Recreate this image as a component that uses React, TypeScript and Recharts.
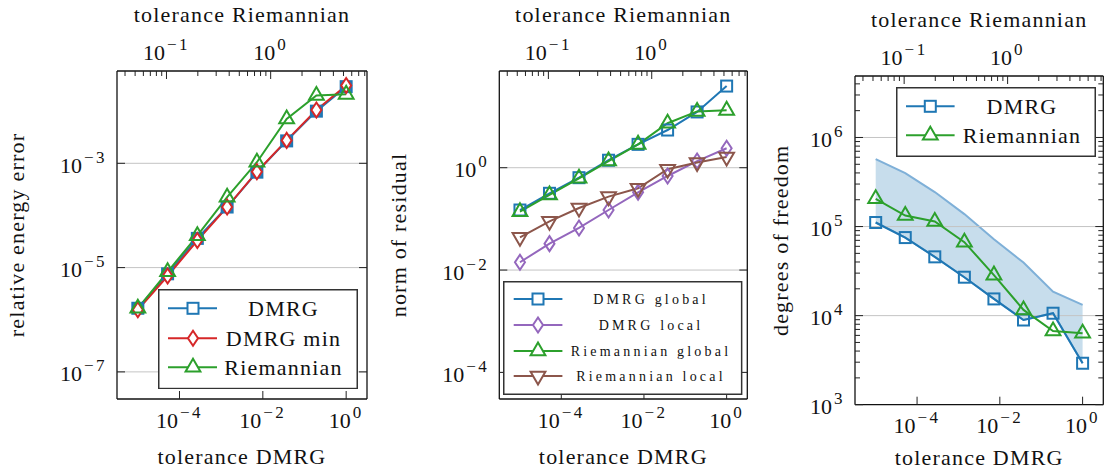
import React from 'react';
import { LineChart, ComposedChart, Line, Area, XAxis, YAxis, ReferenceLine, Legend } from 'recharts';

// ---------- data ----------
const tolDMRG = [1e-5, 5.18e-5, 2.68e-4, 1.39e-3, 7.2e-3, 3.73e-2, 0.193, 1];

const errDMRG = [1.66e-6, 7.6e-6, 3.63e-5, 1.45e-4, 6.76e-4, 2.69e-3, 1.0e-2, 2.95e-2];
const errDMRGmin = [1.55e-6, 6.9e-6, 3.3e-5, 1.45e-4, 6.9e-4, 2.75e-3, 1.05e-2, 3.1e-2];
const errRiem = [1.66e-6, 8.3e-6, 4.1e-5, 2.24e-4, 1.05e-3, 7.1e-3, 2.0e-2, 2.1e-2];

const resDMRGglobal = [0.149, 0.316, 0.638, 1.4, 2.86, 5.45, 12.3, 39.4];
const resDMRGlocal = [0.0142, 0.0328, 0.0664, 0.149, 0.331, 0.689, 1.35, 2.4];
const resRiemGlobal = [0.138, 0.293, 0.621, 1.35, 2.86, 7.4, 12.6, 13.2];
const resRiemLocal = [0.0437, 0.0897, 0.163, 0.272, 0.396, 0.933, 1.26, 1.62];

const dofDMRG = [111000, 75200, 45700, 27000, 15400, 8930, 10640, 2920];
const dofRiem = [205000, 133000, 114000, 66800, 28500, 11600, 6730, 6340];
const dofUpper = [571000, 398000, 244000, 138000, 72100, 39400, 18600, 13200];

// ---------- axes ----------
const xDomain: [number, number] = [3.1623e-6, 3.1623];
const topDomain: [number, number] = [0.0335, 8.41];
const y1Domain: [number, number] = [3.02e-8, 0.0589];
const y2Domain: [number, number] = [3.02e-5, 77.6];
const y3Domain: [number, number] = [1000, 4.9e6];

const bottomTicks = [1e-4, 1e-2, 1];
const bottomExps = ['−4', '−2', '0'];
const topTicks = [0.04, 0.05, 0.06, 0.07, 0.08, 0.09, 0.1, 0.2, 0.3, 0.4, 0.5, 0.6, 0.7, 0.8, 0.9, 1, 2, 3, 4, 5, 6, 7, 8];
const topMajor = [0.1, 1];
const topExps = ['−1', '0'];

const y1Major = [1e-7, 1e-5, 1e-3];
const y1Exps = ['−7', '−5', '−3'];
const y2Major = [1e-4, 1e-2, 1];
const y2Exps = ['−4', '−2', '0'];
const y3Major = [1e3, 1e4, 1e5, 1e6];
const y3Exps = ['3', '4', '5', '6'];
const y3Minor = [2e3, 3e3, 4e3, 5e3, 6e3, 7e3, 8e3, 9e3, 2e4, 3e4, 4e4, 5e4, 6e4, 7e4, 8e4, 9e4, 2e5, 3e5, 4e5, 5e5, 6e5, 7e5, 8e5, 9e5, 2e6, 3e6, 4e6];
const y3Grid = [1e4, 1e5, 1e6];

const legend1 = ['DMRG', 'DMRG min', 'Riemannian'];
const legend2 = ['DMRG global', 'DMRG local', 'Riemannian global', 'Riemannian local'];
const legend3 = ['DMRG', 'Riemannian'];

const BLUE = '#1f77b4';
const RED = '#d62728';
const GREEN = '#2ca02c';
const PURPLE = '#9467bd';
const BROWN = '#8c564b';

const FONT = '"Liberation Serif", "Times New Roman", serif';
const TXT = '#111';
const GRID = '#c4c4c4';

const data1 = tolDMRG.map((x, i) => ({ x, a: errDMRG[i], b: errDMRGmin[i], c: errRiem[i] }));
const data2 = tolDMRG.map((x, i) => ({ x, a: resDMRGglobal[i], b: resDMRGlocal[i], c: resRiemGlobal[i], d: resRiemLocal[i] }));
const data3 = tolDMRG.map((x, i) => ({ x, a: dofDMRG[i], c: dofRiem[i], band: [dofDMRG[i], dofUpper[i]] }));

// ---------- helpers ----------
function Marker({ cx, cy, shape, color, fill = 'none' }: any) {
  if (cx == null || cy == null || isNaN(cx) || isNaN(cy)) return null;
  const sw = 2;
  if (shape === 'square')
    return <rect x={cx - 5.5} y={cy - 5.5} width={11} height={11} fill={fill} stroke={color} strokeWidth={sw} />;
  if (shape === 'diamond')
    return <polygon points={`${cx},${cy - 7.5} ${cx + 5},${cy} ${cx},${cy + 7.5} ${cx - 5},${cy}`} fill={fill} stroke={color} strokeWidth={sw} />;
  if (shape === 'tri')
    return <polygon points={`${cx},${cy - 8.5} ${cx + 7.4},${cy + 4.3} ${cx - 7.4},${cy + 4.3}`} fill={fill} stroke={color} strokeWidth={sw} />;
  return <polygon points={`${cx},${cy + 8.5} ${cx + 7.4},${cy - 4.3} ${cx - 7.4},${cy - 4.3}`} fill={fill} stroke={color} strokeWidth={sw} />;
}

const dotFn = (shape: string, color: string, fill = 'none') => (p: any) => (
  <Marker key={`m-${p.index}`} cx={p.cx} cy={p.cy} shape={shape} color={color} fill={fill} />
);

function PowText({ x, y, exp, anchor }: any) {
  return (
    <text x={x} y={y} textAnchor={anchor} fontFamily={FONT} fontSize={22} fill={TXT}>
      10
      <tspan dx={2} dy={-10} fontSize={17} letterSpacing={2.5}>{exp}</tspan>
    </text>
  );
}

function Title({ tx, ty, text, rot }: any) {
  if (rot)
    return (
      <text transform={`translate(${tx},${ty}) rotate(-90)`} textAnchor="middle" dominantBaseline="central" fontFamily={FONT} fontSize={22} letterSpacing={1.2} fill={TXT}>
        {text}
      </text>
    );
  return (
    <text x={tx} y={ty} textAnchor="middle" fontFamily={FONT} fontSize={22} letterSpacing={1.2} fill={TXT}>
      {text}
    </text>
  );
}

type Cfg = { px0: number; px1: number; py0: number; py1: number; bt: number };

const bottomTick = (c: Cfg) => (p: any) => {
  const v = p.payload.value;
  const i = bottomTicks.indexOf(v);
  return (
    <g key={`bt-${v}`}>
      <line x1={p.x} x2={p.x} y1={c.py1} y2={c.py1 - 8} stroke="#222" strokeWidth={1} />
      {i >= 0 && <PowText x={p.x} y={c.py1 + 28.5} exp={bottomExps[i]} anchor="middle" />}
    </g>
  );
};

const topTick = (c: Cfg) => (p: any) => {
  const v = p.payload.value;
  const i = topMajor.indexOf(v);
  const len = i >= 0 ? 8 : 5;
  return (
    <g key={`tt-${v}`}>
      <line x1={p.x} x2={p.x} y1={c.py0} y2={c.py0 + len} stroke="#222" strokeWidth={1} />
      {i >= 0 && <PowText x={p.x} y={c.py0 - 11} exp={topExps[i]} anchor="middle" />}
    </g>
  );
};

const leftTick = (c: Cfg, major: number[], exps: string[]) => (p: any) => {
  const v = p.payload.value;
  const i = major.indexOf(v);
  const len = i >= 0 ? 8 : 5;
  return (
    <g key={`lt-${v}`}>
      <line x1={c.px0} x2={c.px0 + len} y1={p.y} y2={p.y} stroke="#222" strokeWidth={1} />
      <line x1={c.px1} x2={c.px1 - len} y1={p.y} y2={p.y} stroke="#222" strokeWidth={1} />
      {i >= 0 && <PowText x={c.px0 - 10} y={p.y + 9.5} exp={exps[i]} anchor="end" />}
    </g>
  );
};

function LegendBox({ w, h, names, shapes, colors, ys, lx0, lx1, mx, tx, fs, ls }: any) {
  return (
    <svg width={w} height={h} style={{ display: 'block' }}>
      <rect x={0.75} y={0.75} width={w - 1.5} height={h - 1.5} fill="#fff" stroke="#333" strokeWidth={1.5} />
      {names.map((n: string, i: number) => (
        <g key={n}>
          <line x1={lx0} x2={lx1} y1={ys[i]} y2={ys[i]} stroke={colors[i]} strokeWidth={2} />
          <Marker cx={mx} cy={ys[i]} shape={shapes[i]} color={colors[i]} fill="#fff" />
          <text x={tx} y={ys[i] + fs * 0.33} textAnchor="middle" fontFamily={FONT} fontSize={fs} letterSpacing={ls} fill={TXT}>
            {n}
          </text>
        </g>
      ))}
    </svg>
  );
}

const axisLine = { stroke: '#111', strokeWidth: 1.3 };

function axes(c: Cfg, yDomain: [number, number], yTicks: number[], yMajor: number[], yExps: string[], yTitle: string, yTitleX: number) {
  const cx = (c.px0 + c.px1) / 2;
  const cy = (c.py0 + c.py1) / 2;
  return [
    <XAxis
      key="xb"
      xAxisId="b"
      dataKey="x"
      type="number"
      scale="log"
      domain={xDomain}
      allowDataOverflow
      ticks={bottomTicks}
      interval={0}
      tickLine={false}
      axisLine={axisLine}
      height={50}
      tick={bottomTick(c)}
      label={<Title tx={cx} ty={c.bt} text="tolerance DMRG" />}
    />,
    <XAxis
      key="xt"
      xAxisId="t"
      dataKey="x"
      orientation="top"
      type="number"
      scale="log"
      domain={topDomain}
      allowDataOverflow
      ticks={topTicks}
      interval={0}
      tickLine={false}
      axisLine={axisLine}
      height={40}
      tick={topTick(c)}
      label={<Title tx={cx} ty={c.py0 - 49} text="tolerance Riemannian" />}
    />,
    <YAxis
      key="yl"
      yAxisId="l"
      type="number"
      scale="log"
      domain={yDomain}
      allowDataOverflow
      ticks={yTicks}
      interval={0}
      tickLine={false}
      axisLine={axisLine}
      width={100}
      tick={leftTick(c, yMajor, yExps)}
      label={<Title tx={yTitleX} ty={cy} text={yTitle} rot />}
    />,
    <YAxis
      key="yr"
      yAxisId="r"
      orientation="right"
      type="number"
      scale="log"
      domain={yDomain}
      allowDataOverflow
      ticks={[]}
      tick={false}
      tickLine={false}
      axisLine={axisLine}
      width={2}
    />,
    // invisible helper series so that the top axis gets a scale
    <Line key="hid" xAxisId="t" yAxisId="l" dataKey="a" stroke="none" dot={false} activeDot={false} legendType="none" isAnimationActive={false} />,
  ];
}

function margins(c: Cfg, W: number) {
  return { top: c.py0 - 40, bottom: 470 - c.py1 - 50, left: c.px0 - 100, right: W - c.px1 - 2 };
}

export default function App() {
  const W1 = 380, W2 = 370, W3 = 359;
  const c1: Cfg = { px0: 117, px1: 367, py0: 71, py1: 399, bt: 464 };
  const c2: Cfg = { px0: 119.3, px1: 367.3, py0: 71, py1: 399, bt: 464 };
  const c3: Cfg = { px0: 105, px1: 353.3, py0: 76, py1: 404.7, bt: 464.5 };

  return (
    <div style={{ position: 'absolute', left: 0, top: 0, width: 1109, height: 470, background: '#fff' }}>
      <div style={{ position: 'absolute', left: 0, top: 0 }}>
        <LineChart width={W1} height={470} data={data1} margin={margins(c1, W1)}>
          {axes(c1, y1Domain, y1Major, y1Major, y1Exps, 'relative energy error', 16)}
          {y1Major.map((v) => (
            <ReferenceLine key={`g${v}`} xAxisId="b" yAxisId="l" y={v} stroke={GRID} strokeWidth={1} />
          ))}
          <Line xAxisId="b" yAxisId="l" dataKey="a" stroke={BLUE} strokeWidth={2} dot={dotFn('square', BLUE, '#2a7ab8')} activeDot={false} isAnimationActive={false} />
          <Line xAxisId="b" yAxisId="l" dataKey="b" stroke={RED} strokeWidth={2} dot={dotFn('diamond', RED, '#fff')} activeDot={false} isAnimationActive={false} />
          <Line xAxisId="b" yAxisId="l" dataKey="c" stroke={GREEN} strokeWidth={2} dot={dotFn('tri', GREEN)} activeDot={false} isAnimationActive={false} />
          <Legend
            layout="vertical"
            align="center"
            verticalAlign="middle"
            wrapperStyle={{ left: 158, top: 288.7, width: 200, height: 100.3 }}
            content={() => (
              <LegendBox w={200} h={100.3} names={legend1} shapes={['square', 'diamond', 'tri']} colors={[BLUE, RED, GREEN]} ys={[19.3, 49.3, 78.3]} lx0={10} lx1={59} mx={35} tx={125.5} fs={22} ls={1.2} />
            )}
          />
        </LineChart>
      </div>

      <div style={{ position: 'absolute', left: 380, top: 0 }}>
        <LineChart width={W2} height={470} data={data2} margin={margins(c2, W2)}>
          {axes(c2, y2Domain, y2Major, y2Major, y2Exps, 'norm of residual', 18)}
          {y2Major.map((v) => (
            <ReferenceLine key={`g${v}`} xAxisId="b" yAxisId="l" y={v} stroke={GRID} strokeWidth={1} />
          ))}
          <Line xAxisId="b" yAxisId="l" dataKey="a" stroke={BLUE} strokeWidth={2} dot={dotFn('square', BLUE)} activeDot={false} isAnimationActive={false} />
          <Line xAxisId="b" yAxisId="l" dataKey="b" stroke={PURPLE} strokeWidth={2} dot={dotFn('diamond', PURPLE)} activeDot={false} isAnimationActive={false} />
          <Line xAxisId="b" yAxisId="l" dataKey="c" stroke={GREEN} strokeWidth={2} dot={dotFn('tri', GREEN)} activeDot={false} isAnimationActive={false} />
          <Line xAxisId="b" yAxisId="l" dataKey="d" stroke={BROWN} strokeWidth={2} dot={dotFn('tridown', BROWN)} activeDot={false} isAnimationActive={false} />
          <Legend
            layout="vertical"
            align="center"
            verticalAlign="middle"
            wrapperStyle={{ left: 123.3, top: 281, width: 239.4, height: 114 }}
            content={() => (
              <LegendBox w={239.4} h={114} names={legend2} shapes={['square', 'diamond', 'tri', 'tridown']} colors={[BLUE, PURPLE, GREEN, BROWN]} ys={[18, 44, 70, 95]} lx0={10.7} lx1={59.4} mx={35} tx={148} fs={14} ls={3.2} />
            )}
          />
        </LineChart>
      </div>

      <div style={{ position: 'absolute', left: 750, top: 0 }}>
        <ComposedChart width={W3} height={470} data={data3} margin={margins(c3, W3)}>
          {axes(c3, y3Domain, [...y3Major, ...y3Minor], y3Major, y3Exps, 'degrees of freedom', 30)}
          {y3Grid.map((v) => (
            <ReferenceLine key={`g${v}`} xAxisId="b" yAxisId="l" y={v} stroke={GRID} strokeWidth={1} />
          ))}
          <Area xAxisId="b" yAxisId="l" dataKey="band" type="linear" fill={BLUE} fillOpacity={0.25} stroke="#7fb0d8" strokeWidth={2} dot={false} activeDot={false} isAnimationActive={false} />
          <Line xAxisId="b" yAxisId="l" dataKey="a" stroke={BLUE} strokeWidth={2} dot={dotFn('square', BLUE)} activeDot={false} isAnimationActive={false} />
          <Line xAxisId="b" yAxisId="l" dataKey="c" stroke={GREEN} strokeWidth={2} dot={dotFn('tri', GREEN)} activeDot={false} isAnimationActive={false} />
          <Legend
            layout="vertical"
            align="center"
            verticalAlign="middle"
            wrapperStyle={{ left: 145.7, top: 86.7, width: 200, height: 70 }}
            content={() => (
              <LegendBox w={200} h={70} names={legend3} shapes={['square', 'tri']} colors={[BLUE, GREEN]} ys={[19.3, 48.3]} lx0={10} lx1={58.6} mx={34.3} tx={126} fs={22} ls={1.2} />
            )}
          />
        </ComposedChart>
      </div>
    </div>
  );
}
